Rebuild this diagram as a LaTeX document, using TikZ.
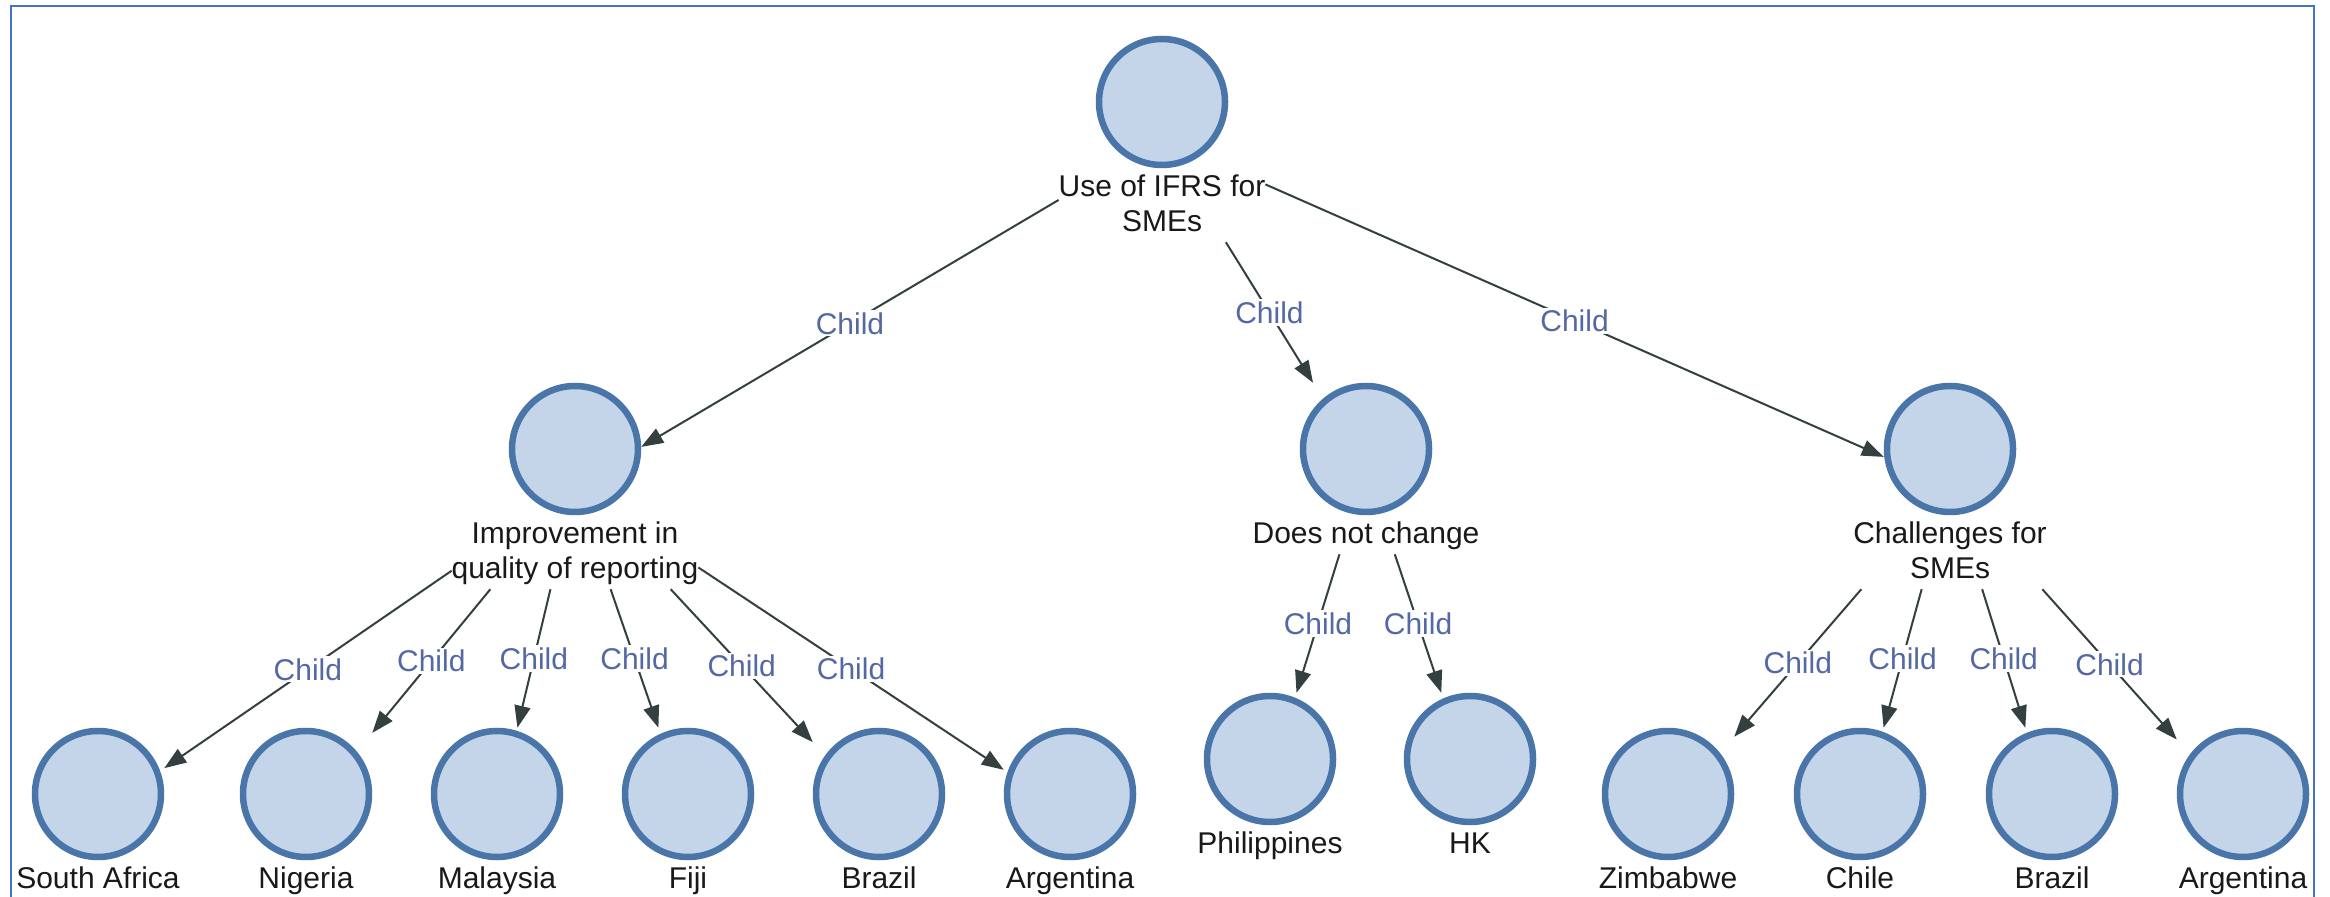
\documentclass[tikz,border=0pt]{standalone}
\usepackage{fontspec}
\setmainfont{Liberation Sans}
\usetikzlibrary{arrows.meta,fit,calc}
\definecolor{ringc}{RGB}{74,117,168}
\definecolor{fillc}{RGB}{196,213,234}
\definecolor{edgec}{RGB}{52,64,64}
\definecolor{childc}{RGB}{84,104,164}
\definecolor{framec}{RGB}{68,114,196}
\definecolor{textc}{RGB}{25,25,25}
\tikzset{
  ent/.style={circle, draw=ringc, fill=fillc, line width=3.25pt, minimum size=63pt, inner sep=0pt},
  lbl/.style={anchor=north, inner sep=0pt, outer sep=0pt, align=center, text=textc, font=\fontsize{15pt}{17.5pt}\selectfont},
  box/.style={rectangle, inner sep=0pt, outer sep=0pt},
  edge/.style={draw=edgec, line width=1pt, -{Triangle[length=11pt,width=8pt]}},
  childlbl/.style={midway, fill=white, inner sep=1pt, text=childc, font=\fontsize{15pt}{17.5pt}\selectfont},
}
\newcommand\mkent[3]{%
  \node[ent] (#1) at (#2) {};
  \node[lbl] (#1l) at ([yshift=-2pt]#1.south) {#3};
  \node[box, fit={(#1.north) (#1.west) (#1.east) (#1l.south) (#1l.west) (#1l.east)}] (#1b) {};
  \node[box, fit={(#1.north) (#1.west) (#1.east) (#1.south |- #1l.south)}] (#1n) {};
}
\begin{document}
\begin{tikzpicture}[x=0.5pt, y=-0.5pt]
\clip (0,0) rectangle (2330,897);
\fill[white] (0,0) rectangle (2330,897);
\draw[framec, line width=1.25pt] (11,6) rectangle (2314,930);

\mkent{R}{1162,102}{\strut Use of IFRS for\\\strut SMEs}
\mkent{I}{575,449}{\strut Improvement in\\\strut quality of reporting}
\mkent{D}{1366,449}{\strut Does not change}
\mkent{C}{1950,449}{\strut Challenges for\\\strut SMEs}

\mkent{a1}{98,794}{\strut South Africa}
\mkent{a2}{306,794}{\strut Nigeria}
\mkent{a3}{497,794}{\strut Malaysia}
\mkent{a4}{688,794}{\strut Fiji}
\mkent{a5}{879,794}{\strut Brazil}
\mkent{a6}{1070,794}{\strut Argentina}

\mkent{p1}{1270,759}{\strut Philippines}
\mkent{p2}{1470,759}{\strut HK}

\mkent{c1}{1668,794}{\strut Zimbabwe}
\mkent{c2}{1860,794}{\strut Chile}
\mkent{c3}{2052,794}{\strut Brazil}
\mkent{c4}{2243,794}{\strut Argentina}

\draw[edge] (Rb) -- (In) node[childlbl]{Child};
\draw[edge] (Rb) -- (Dn) node[childlbl]{Child};
\draw[edge] (Rb) -- (Cn) node[childlbl]{Child};

\foreach \k in {a1,a2,a3,a4,a5,a6}{
  \draw[edge] (Ib) -- (\k n) node[childlbl]{Child};
}
\foreach \k in {p1,p2}{
  \draw[edge] (Db) -- (\k n) node[childlbl]{Child};
}
\foreach \k in {c1,c2,c3,c4}{
  \draw[edge] (Cb) -- (\k n) node[childlbl]{Child};
}
\end{tikzpicture}
\end{document}
